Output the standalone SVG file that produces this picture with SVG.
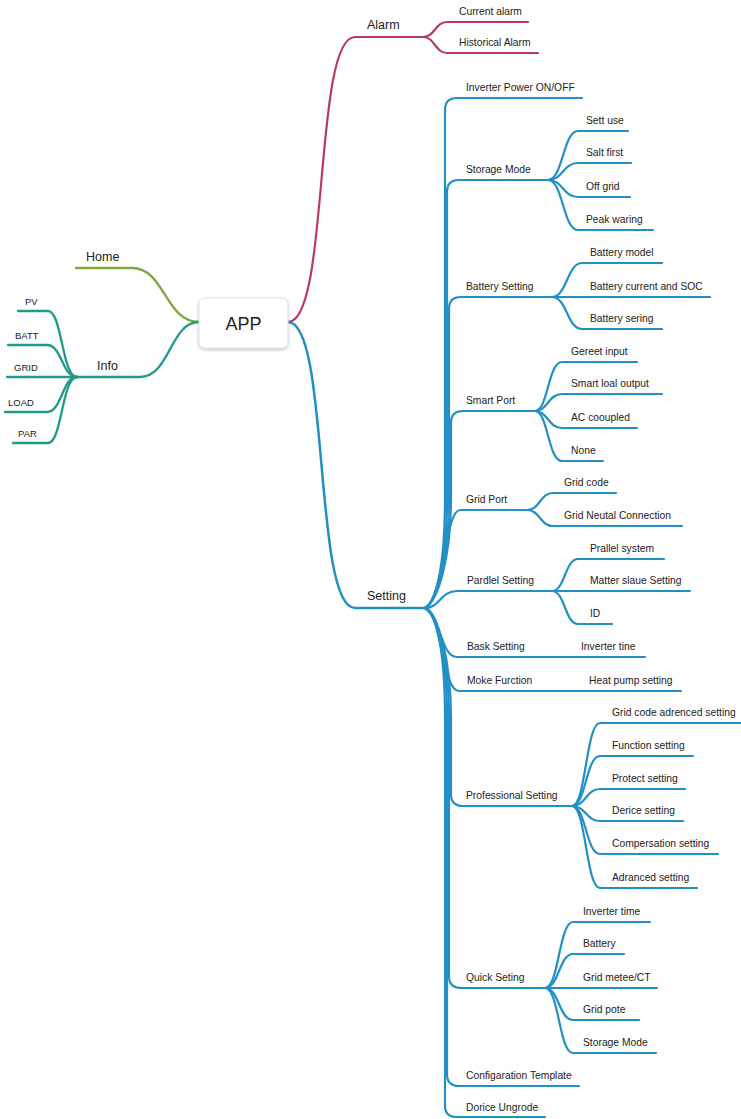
<svg xmlns="http://www.w3.org/2000/svg" width="741" height="1119" viewBox="0 0 741 1119">
<style>
text{font-family:"Liberation Sans",Arial,sans-serif;fill:#222;font-size:10.3px}
.l1{font-size:12.5px}
.lf{font-size:9.5px}
.app{font-size:18px;text-anchor:middle}
path{fill:none;stroke-linecap:round;stroke-linejoin:round}
.b{stroke:#2290c4;stroke-width:2.2}
.bt{stroke:#2290c4;stroke-width:2.5}
.m{stroke:#b8376f;stroke-width:2.2}
.g{stroke:#7da83c;stroke-width:2.3}
.t{stroke:#1f9a8b;stroke-width:2.3}
</style>
<defs>
<filter id="sh" x="-20%" y="-20%" width="140%" height="150%">
<feDropShadow dx="0" dy="1.5" stdDeviation="1.5" flood-color="#000" flood-opacity="0.25"/>
</filter>
</defs>
<rect width="741" height="1119" fill="#fff"/>
<g id="connectors">
<!-- left -->
<path class="g" d="M199,322 C165,322 165,268 132,268 L76,268"/>
<path class="t" d="M199,322 C170,322 170,377 140,377 L77,377"/>
<path class="t" d="M77,377 C62,377 62,311 48,311 L18,311"/>
<path class="t" d="M77,377 C62,377 62,345 47,345 L8,345"/>
<path class="t" d="M77,377 L7,377"/>
<path class="t" d="M77,377 C62,377 62,412 47,412 L5,412"/>
<path class="t" d="M77,377 C62,377 62,443 48,443 L13,443"/>
<!-- alarm -->
<path class="m" d="M288,322 C330,322 313,37 355,37 L423,37"/>
<path class="m" d="M423,37 C435,37 435,22 447,22 L528,22"/>
<path class="m" d="M423,37 C435,37 435,53 447,53 L538,53"/>
<!-- setting -->
<path class="bt" d="M288,322 C330,322 313,608 355,608 L425,608"/>
<path class="b" d="M425,608 C438,601 445,558 445,498 L445,110 Q445,98 457,98 L582,98"/>
<path class="b" d="M425,608 C438,601 447,558 447,498 L447,192 Q447,180 459,180 L548,180"/>
<path class="b" d="M425,608 C438,601 449,558 449,498 L449,309 Q449,297 461,297 L552,297"/>
<path class="b" d="M425,608 C438,601 451,558 451,498 L451,423 Q451,411 463,411 L535,411"/>
<path class="b" d="M425,608 C443,600 445,510 460,510 L527,510"/>
<path class="b" d="M425,608 C440,608 440,591 457,591 L552,591"/>
<path class="b" d="M425,608 C440,612 440,657 457,657 L645,657"/>
<path class="b" d="M425,608 C442,612 442,691 459,691 L681,691"/>
<path class="b" d="M425,608 C438,615 451,658 451,718 L451,794 Q451,806 463,806 L572,806"/>
<path class="b" d="M425,608 C438,615 449,658 449,718 L449,976 Q449,988 461,988 L545,988"/>
<path class="b" d="M425,608 C438,615 447,658 447,718 L447,1074 Q447,1086 459,1086 L579,1086"/>
<path class="b" d="M425,608 C438,615 445,658 445,718 L445,1106 Q445,1117 457,1117 L545,1117"/>
<!-- storage mode -->
<path class="b" d="M548,180 C563,180 563,131 578,131 L628,131"/>
<path class="b" d="M548,180 C563,180 563,163 578,163 L631,163"/>
<path class="b" d="M548,180 C563,180 563,197 578,197 L630,197"/>
<path class="b" d="M548,180 C563,180 563,230 578,230 L653,230"/>
<!-- battery setting -->
<path class="b" d="M552,297 C567,297 567,263 582,263 L662,263"/>
<path class="b" d="M552,297 L710,297"/>
<path class="b" d="M552,297 C567,297 567,329 582,329 L662,329"/>
<!-- smart port -->
<path class="b" d="M535,411 C548,411 548,362 562,362 L637,362"/>
<path class="b" d="M535,411 C548,411 548,394 562,394 L662,394"/>
<path class="b" d="M535,411 C548,411 548,428 562,428 L637,428"/>
<path class="b" d="M535,411 C548,411 548,461 562,461 L603,461"/>
<!-- grid port -->
<path class="b" d="M527,510 C540,510 540,493 553,493 L616,493"/>
<path class="b" d="M527,510 C540,510 540,526 553,526 L682,526"/>
<!-- parallel -->
<path class="b" d="M552,591 C565,591 565,559 578,559 L664,559"/>
<path class="b" d="M552,591 L690,591"/>
<path class="b" d="M552,591 C565,591 565,624 578,624 L612,624"/>
<!-- professional -->
<path class="b" d="M572,806 C586,806 586,723 600,723 L741,723"/>
<path class="b" d="M572,806 C586,806 586,756 600,756 L693,756"/>
<path class="b" d="M572,806 C586,806 586,789 600,789 L685,789"/>
<path class="b" d="M572,806 C586,806 586,821 600,821 L683,821"/>
<path class="b" d="M572,806 C586,806 586,854 600,854 L718,854"/>
<path class="b" d="M572,806 C586,806 586,888 600,888 L697,888"/>
<!-- quick -->
<path class="b" d="M545,988 C559,988 559,922 573,922 L650,922"/>
<path class="b" d="M545,988 C559,988 559,954 573,954 L624,954"/>
<path class="b" d="M545,988 L657,988"/>
<path class="b" d="M545,988 C559,988 559,1020 573,1020 L639,1020"/>
<path class="b" d="M545,988 C559,988 559,1053 573,1053 L656,1053"/>
</g>
<g id="app"><rect x="199" y="298" width="89" height="50" rx="6" fill="#fff" stroke="#e2e2e2" filter="url(#sh)"/><text class="app" x="243.5" y="330">APP</text></g>
<g id="home"><text class="l1" x="86" y="261">Home</text></g>
<g id="info"><text class="l1" x="97" y="370">Info</text></g>
<g id="pv"><text class="lf" x="25" y="305">PV</text></g>
<g id="batt"><text class="lf" x="15" y="339">BATT</text></g>
<g id="grid"><text class="lf" x="14" y="371">GRID</text></g>
<g id="load"><text class="lf" x="8" y="406">LOAD</text></g>
<g id="par"><text class="lf" x="18" y="437">PAR</text></g>
<g id="alarm"><text class="l1" x="367" y="29">Alarm</text></g>
<g id="current-alarm"><text x="459" y="15">Current alarm</text></g>
<g id="historical-alarm"><text x="459" y="46">Historical Alarm</text></g>
<g id="setting"><text class="l1" x="367" y="600">Setting</text></g>
<g id="inverter-power"><text x="466" y="91">Inverter Power ON/OFF</text></g>
<g id="storage-mode"><text x="466" y="173">Storage Mode</text></g>
<g id="self-use"><text x="586" y="124">Sett use</text></g>
<g id="self-first"><text x="586" y="156">Salt first</text></g>
<g id="off-grid"><text x="586" y="190">Off grid</text></g>
<g id="peak"><text x="586" y="223">Peak waring</text></g>
<g id="battery-setting"><text x="466" y="290">Battery Setting</text></g>
<g id="battery-model"><text x="590" y="256">Battery model</text></g>
<g id="battery-current"><text x="590" y="290">Battery current and SOC</text></g>
<g id="battery-sering"><text x="590" y="322">Battery sering</text></g>
<g id="smart-port"><text x="466" y="404">Smart Port</text></g>
<g id="gen-input"><text x="571" y="355">Gereet input</text></g>
<g id="smart-load"><text x="571" y="387">Smart loal output</text></g>
<g id="ac-coupled"><text x="571" y="421">AC cooupled</text></g>
<g id="none"><text x="571" y="454">None</text></g>
<g id="grid-port"><text x="466" y="503">Grid Port</text></g>
<g id="grid-code"><text x="564" y="486">Grid code</text></g>
<g id="grid-neutral"><text x="564" y="519">Grid Neutal Connection</text></g>
<g id="parallel-setting"><text x="467" y="584">Pardlel Setting</text></g>
<g id="parallel-system"><text x="590" y="552">Prallel system</text></g>
<g id="master-slave"><text x="590" y="584">Matter slaue Setting</text></g>
<g id="id"><text x="590" y="617">ID</text></g>
<g id="basic-setting"><text x="467" y="650">Bask Setting</text></g>
<g id="inverter-tine"><text x="581" y="650">Inverter tine</text></g>
<g id="more-function"><text x="467" y="684">Moke Furction</text></g>
<g id="heat-pump"><text x="589" y="684">Heat pump setting</text></g>
<g id="professional"><text x="466" y="799">Professional Setting</text></g>
<g id="grid-code-adv"><text x="612" y="716">Grid code adrenced setting</text></g>
<g id="function-setting"><text x="612" y="749">Function setting</text></g>
<g id="protect-setting"><text x="612" y="782">Protect setting</text></g>
<g id="device-setting"><text x="612" y="814">Derice setting</text></g>
<g id="compensation"><text x="612" y="847">Compersation setting</text></g>
<g id="advanced"><text x="612" y="881">Adranced setting</text></g>
<g id="quick-setting"><text x="466" y="981">Quick Seting</text></g>
<g id="q-inverter-time"><text x="583" y="915">Inverter time</text></g>
<g id="q-battery"><text x="583" y="947">Battery</text></g>
<g id="q-grid-meter"><text x="583" y="981">Grid metee/CT</text></g>
<g id="q-grid-pote"><text x="583" y="1013">Grid pote</text></g>
<g id="q-storage"><text x="583" y="1046">Storage Mode</text></g>
<g id="config-template"><text x="466" y="1079">Configaration Template</text></g>
<g id="device-upgrade"><text x="466" y="1111">Dorice Ungrode</text></g>
</svg>
